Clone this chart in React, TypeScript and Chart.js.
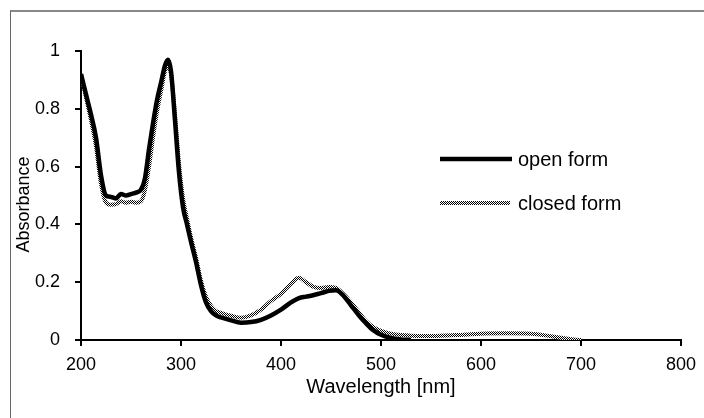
import React, { useEffect, useRef } from "react";
import { Chart, registerables } from "chart.js";

Chart.register(...registerables);

// ---- Data ----
const wavelengths = [
  200, 205, 210, 215, 220, 225, 230, 235, 240, 245,
  250, 255, 260, 264, 268, 272, 276, 280, 284, 287,
  290, 294, 298, 302, 306, 310, 315, 320, 325, 330,
  335, 340, 350, 360, 370, 380, 390, 400, 410, 418,
  425, 432, 440, 448, 455, 462, 470, 478, 485, 492,
  500, 510, 520, 530, 540, 550, 575, 600, 625, 650,
  670, 685, 695, 700,
];

const openForm: (number | null)[] = [
  0.92, 0.85, 0.78, 0.70, 0.57, 0.50, 0.495, 0.49, 0.505, 0.50,
  0.505, 0.51, 0.52, 0.56, 0.66, 0.75, 0.83, 0.89, 0.95, 0.97,
  0.93, 0.76, 0.58, 0.46, 0.40, 0.34, 0.27, 0.19, 0.13, 0.10,
  0.085, 0.078, 0.068, 0.060, 0.062, 0.070, 0.085, 0.105, 0.13, 0.145,
  0.15, 0.155, 0.162, 0.17, 0.172, 0.155, 0.12, 0.085, 0.058, 0.035,
  0.018, 0.007, 0.002, 0, null, null, null, null, null, null,
  null, null, null, null,
];

const closedForm: (number | null)[] = [
  0.92, 0.84, 0.76, 0.67, 0.54, 0.475, 0.468, 0.47, 0.48, 0.475,
  0.478, 0.475, 0.48, 0.52, 0.60, 0.70, 0.79, 0.86, 0.93, 0.945,
  0.92, 0.78, 0.61, 0.49, 0.42, 0.355, 0.285, 0.205, 0.15, 0.118,
  0.10, 0.094, 0.084, 0.077, 0.085, 0.105, 0.135, 0.16, 0.195, 0.215,
  0.20, 0.185, 0.18, 0.183, 0.18, 0.16, 0.13, 0.095, 0.065, 0.045,
  0.032, 0.022, 0.017, 0.015, 0.014, 0.014, 0.017, 0.022, 0.023, 0.022,
  0.013, 0.005, 0.001, 0,
];

const seriesLabels = ["open form", "closed form"];
const xTitle = "Wavelength [nm]";
const yTitle = "Absorbance";
const xRange = [200, 800];
const xStep = 100;
const yRange = [0, 1];
const yStep = 0.2;

const FONT = "'Liberation Sans', Arial, Helvetica, sans-serif";

export default function App() {
  const ref = useRef<HTMLCanvasElement>(null);

  useEffect(() => {
    const canvas = ref.current!;
    const pc = document.createElement("canvas");
    pc.width = 2;
    pc.height = 2;
    const p = pc.getContext("2d")!;
    p.fillStyle = "#ffffff";
    p.fillRect(0, 0, 2, 2);
    p.fillStyle = "#000000";
    p.fillRect(0, 0, 1, 1);
    p.fillRect(1, 1, 1, 1);
    const pattern = canvas.getContext("2d")!.createPattern(pc, "repeat")!;

    const overlayPlugin = {
      id: "customLegendAndTitle",
      afterDraw(chart: any) {
        const { ctx, chartArea } = chart;
        const x0 = chartArea.left + 359;
        const x1 = x0 + 72;
        const tx = chartArea.left + 437;
        const y0 = chartArea.top + 108;
        const y1 = chartArea.top + 152;
        ctx.save();
        ctx.lineCap = "butt";
        ctx.strokeStyle = "#000";
        ctx.lineWidth = 4.5;
        ctx.beginPath();
        ctx.moveTo(x0, y0);
        ctx.lineTo(x1, y0);
        ctx.stroke();
        ctx.strokeStyle = pattern;
        ctx.lineWidth = 4;
        ctx.beginPath();
        ctx.moveTo(x0, y1);
        ctx.lineTo(x1 - 2, y1);
        ctx.stroke();
        ctx.fillStyle = "#000";
        ctx.font = `20px ${FONT}`;
        ctx.textBaseline = "middle";
        ctx.textAlign = "left";
        ctx.fillText(seriesLabels[0], tx, y0 + 1);
        ctx.fillText(seriesLabels[1], tx, y1 + 1);

        // y-axis title
        ctx.translate(chartArea.left - 57, (chartArea.top + chartArea.bottom) / 2 + 9);
        ctx.rotate(-Math.PI / 2);
        ctx.textAlign = "center";
        ctx.font = `18px ${FONT}`;
        ctx.fillText(yTitle, 0, 0);
        ctx.restore();
      },
    };

    const chart = new Chart(canvas, {
      type: "line",
      data: {
        datasets: [
          {
            label: seriesLabels[0],
            data: wavelengths.map((x, i) => ({ x, y: openForm[i] })) as any,
            borderColor: "#000000",
            borderWidth: 4.5,
            pointRadius: 0,
            tension: 0.4,
            cubicInterpolationMode: "monotone",
            fill: false,
            spanGaps: false,
          },
          {
            label: seriesLabels[1],
            data: wavelengths.map((x, i) => ({ x, y: closedForm[i] })) as any,
            borderColor: pattern as any,
            borderWidth: 4,
            pointRadius: 0,
            tension: 0.4,
            cubicInterpolationMode: "monotone",
            fill: false,
          },
        ],
      },
      options: {
        responsive: false,
        animation: false,
        devicePixelRatio: 1,
        layout: { padding: { left: 0, top: 51, right: 21, bottom: 0 } },
        plugins: {
          legend: { display: false },
          tooltip: { enabled: false },
        },
        scales: {
          x: {
            type: "linear",
            min: xRange[0],
            max: xRange[1],
            ticks: {
              stepSize: xStep,
              color: "#000",
              font: { size: 18, family: FONT },
              padding: 8,
              maxRotation: 0,
            },
            grid: {
              drawOnChartArea: false,
              drawTicks: true,
              tickLength: 6,
              color: "#000",
              lineWidth: 2,
            },
            border: { color: "#000", width: 2 },
            title: {
              display: true,
              text: xTitle,
              color: "#000",
              font: { size: 20, family: FONT },
              padding: { top: 0, bottom: 19 },
            },
            afterFit: (s: any) => {
              s.height = 78;
            },
          },
          y: {
            type: "linear",
            min: yRange[0],
            max: yRange[1],
            ticks: {
              stepSize: yStep,
              color: "#000",
              font: { size: 18, family: FONT },
              padding: 15,
              callback: (v: any) => String(Number(Number(v).toFixed(1))),
            },
            grid: {
              drawOnChartArea: false,
              drawTicks: true,
              tickLength: 6,
              color: "#000",
              lineWidth: 2,
            },
            border: { color: "#000", width: 2 },
            title: { display: false },
            afterFit: (s: any) => {
              s.width = 81;
            },
          },
        },
      },
      plugins: [overlayPlugin],
    });

    return () => chart.destroy();
  }, []);

  return (
    <div
      style={{
        position: "fixed",
        left: 0,
        top: 0,
        width: 704,
        height: 418,
        background: "#fff",
        overflow: "hidden",
      }}
    >
      <div
        style={{
          position: "absolute",
          left: 10,
          top: 10,
          width: 800,
          height: 800,
          borderLeft: "1px solid #666",
          borderTop: "2px solid #888",
        }}
      />
      <canvas
        ref={ref}
        width={704}
        height={418}
        style={{ position: "absolute", left: 0, top: 0, width: 704, height: 418 }}
      />
    </div>
  );
}
